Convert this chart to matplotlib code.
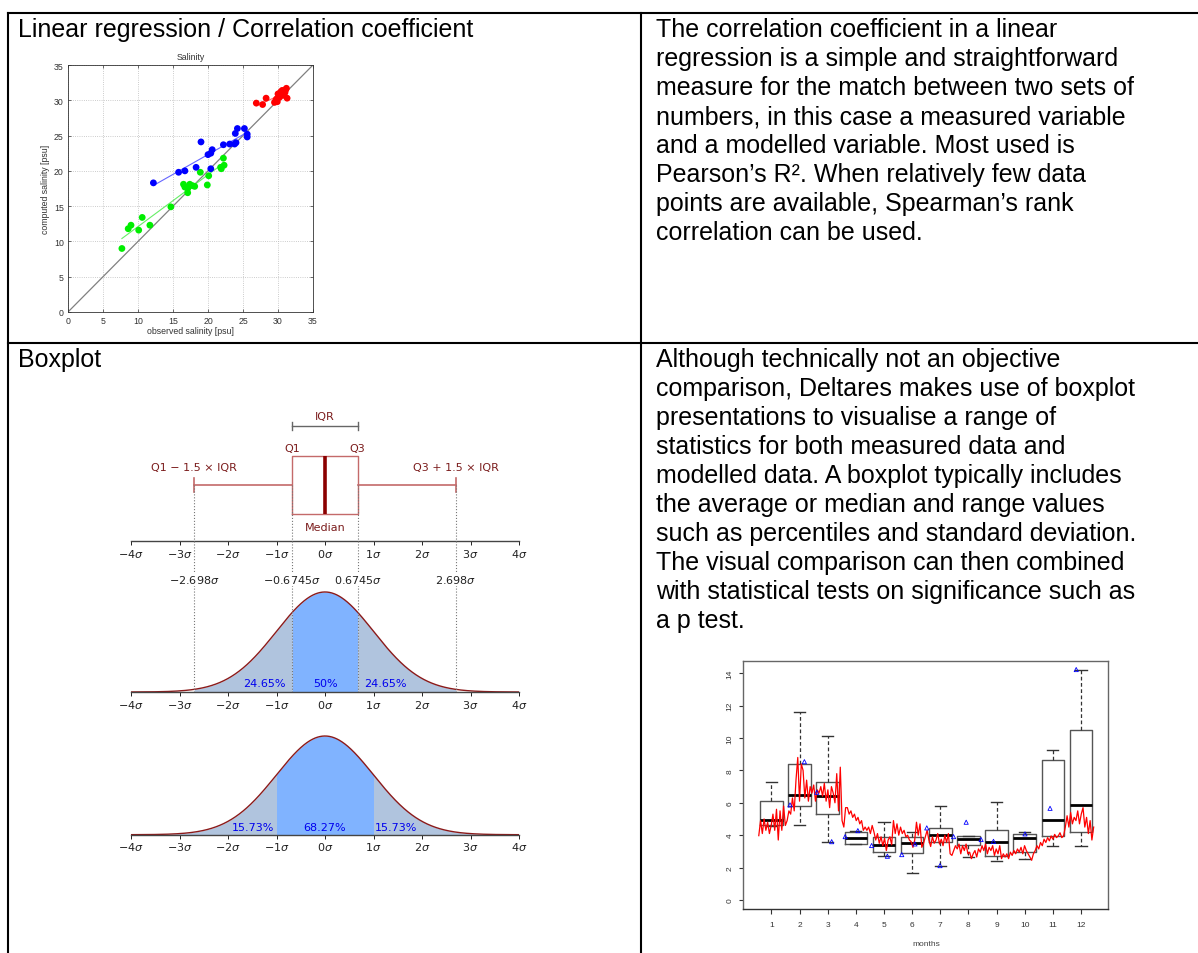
import numpy as np
import matplotlib
matplotlib.use("Agg")
import matplotlib.pyplot as plt
from matplotlib.lines import Line2D
import matplotlib.transforms as mtransforms

# ---------------- data ----------------
red_x = [26.9, 27.8, 28.3, 29.5, 29.8, 30.0, 30.4, 30.7, 31.0, 31.2, 31.3, 30.2, 30.6, 29.9, 30.9, 30.3, 29.7, 31.1]
red_y = [29.6, 29.4, 30.3, 29.7, 30.2, 30.9, 31.2, 30.7, 31.1, 31.7, 30.3, 30.4, 31.4, 29.8, 31.3, 31.0, 30.0, 31.5]
blue_x = [12.2, 15.8, 16.7, 18.3, 19.0, 20.0, 20.4, 20.6, 20.4, 22.2, 23.1, 23.8, 24.0, 23.9, 24.2, 25.2, 25.6, 25.6]
blue_y = [18.3, 19.8, 20.0, 20.5, 24.1, 22.3, 22.5, 23.0, 20.3, 23.7, 23.8, 23.8, 24.0, 25.3, 26.0, 26.0, 25.2, 24.8]
green_x = [7.7, 8.6, 9.0, 10.1, 10.6, 11.7, 14.7, 16.5, 16.7, 17.1, 17.1, 17.4, 17.8, 18.1, 18.9, 19.9, 20.1, 21.8, 22.2, 22.3, 21.9]
green_y = [9.0, 11.8, 12.3, 11.6, 13.4, 12.3, 14.9, 18.1, 17.7, 17.5, 16.9, 18.1, 17.9, 17.8, 19.8, 18.0, 19.3, 20.5, 21.8, 20.8, 20.3]
sal_ticks = [0, 5, 10, 15, 20, 25, 30, 35]

# normal distribution diagram
mu, sigma = 0.0, 1.0
sigma_ticks = [-4, -3, -2, -1, 0, 1, 2, 3, 4]
q1, q3 = -0.6745, 0.6745
whis_lo, whis_hi = -2.698, 2.698
pct_iqr = ["24.65%", "50%", "24.65%"]
pct_sd = ["15.73%", "68.27%", "15.73%"]

# monthly boxplot
months = [1, 2, 3, 4, 5, 6, 7, 8, 9, 10, 11, 12]
box_whislo = [4.55, 4.63, 3.60, 3.45, 2.74, 1.65, 2.12, 2.64, 2.39, 2.53, 3.36, 3.36]
box_q1 = [4.65, 5.79, 5.31, 3.46, 2.94, 2.88, 3.56, 3.40, 2.74, 2.94, 3.93, 4.22]
box_med = [4.96, 6.49, 6.44, 3.81, 3.40, 3.52, 4.01, 3.77, 3.56, 3.81, 4.94, 5.89]
box_q3 = [6.09, 8.40, 7.31, 4.18, 3.91, 3.91, 4.43, 3.93, 4.34, 4.08, 8.65, 10.50]
box_whishi = [7.31, 11.59, 10.11, 4.28, 4.84, 4.22, 5.79, 3.93, 6.07, 4.22, 9.29, 14.23]
tri_x = [1.66, 2.17, 2.61, 3.14, 3.62, 4.07, 4.56, 5.12, 5.63, 6.10, 6.52, 6.99, 7.47, 7.92, 8.45, 8.89, 10.01, 10.90, 11.83]
tri_y = [5.87, 8.54, 6.65, 3.60, 3.91, 4.28, 3.36, 2.70, 2.80, 3.46, 4.45, 2.12, 3.91, 4.80, 3.73, 3.62, 4.08, 5.66, 14.23]
series = [3.97, 4.9, 4.1, 5.0, 4.3, 4.8, 4.1, 4.6,
          5.3, 4.3, 5.6, 3.7, 5.5, 4.3, 5.8, 4.6,
          4.9, 5.5, 5.3, 6.3, 5.5, 7.4, 8.8, 6.1, 8.4,
          8.0, 6.3, 7.4, 6.1, 7.0, 6.6, 7.1, 6.1, 6.8,
          6.6, 7.0, 6.4, 7.2, 6.1, 6.8, 5.7, 7.0,
          6.6, 6.0, 7.8, 5.5, 8.2, 4.9, 4.5, 5.7,
          5.7, 5.3, 5.5, 5.1, 5.3, 4.9, 5.1, 4.7, 4.9, 4.3, 4.5,
          4.3, 4.5, 4.1, 4.6, 4.2, 3.7, 4.1, 3.5, 3.9, 3.35, 3.8, 3.05, 3.7,
          3.9, 3.4, 4.9, 4.1, 4.7, 4.0, 4.5, 4.1,
          4.3, 3.9, 4.0, 3.7, 3.6, 3.25, 3.7, 4.8, 4.0, 4.7, 3.25,
          3.5, 3.9, 4.3, 3.7, 3.3, 3.9, 3.5, 3.7, 4.1,
          3.45, 3.75, 3.35, 4.0, 3.55, 4.1, 2.85,
          2.75, 3.05, 3.35, 3.15, 3.45, 2.85,
          3.35, 3.05, 3.45, 2.85, 2.95, 2.55, 2.85, 3.05,
          2.65, 3.15, 2.95, 3.35, 3.05, 3.45, 2.85, 3.25,
          3.05, 3.35, 2.75, 3.15, 2.85, 3.35, 2.55, 2.85,
          2.65, 2.85, 2.55, 2.95, 2.75, 3.05, 2.85, 3.15,
          2.95, 3.25, 2.85, 3.35, 3.05, 2.85, 2.65, 2.45, 2.85,
          3.05, 3.35, 3.15, 3.55, 3.35, 3.75, 3.55, 3.85,
          3.65, 3.95, 3.75, 4.05, 3.85, 3.95, 4.15, 3.85,
          3.95, 4.5, 5.2, 4.5, 5.4, 4.7, 5.1, 4.9,
          5.5, 4.7, 5.3, 5.7, 4.5, 5.1, 4.1, 4.9, 3.7, 4.5]
series_start, series_end = 0.55, 12.45
month_ticks = [0, 2, 4, 6, 8, 10, 12, 14]

title1 = "Linear regression / Correlation coefficient"
title2 = "Boxplot"
text1 = ["The correlation coefficient in a linear",
         "regression is a simple and straightforward",
         "measure for the match between two sets of",
         "numbers, in this case a measured variable",
         "and a modelled variable. Most used is",
         "Pearson\u2019s R\u00b2. When relatively few data",
         "points are available, Spearman\u2019s rank",
         "correlation can be used."]
text2 = ["Although technically not an objective",
         "comparison, Deltares makes use of boxplot",
         "presentations to visualise a range of",
         "statistics for both measured data and",
         "modelled data. A boxplot typically includes",
         "the average or median and range values",
         "such as percentiles and standard deviation.",
         "The visual comparison can then combined",
         "with statistical tests on significance such as",
         "a p test."]

# ---------------- figure ----------------
W, H = 1198, 954
fig = plt.figure(figsize=(W / 100, H / 100), dpi=100)
fig.patch.set_facecolor("white")


def fx(x):
    return x / W


def fy(y):
    return 1 - y / H


def axrect(l, t, r, b):
    return [l / W, 1 - b / H, (r - l) / W, (b - t) / H]


# table lines
for (x0, y0, x1, y1) in [(8, 14, 1198, 14), (8, 14, 8, 954), (641, 14, 641, 954), (8, 344, 1198, 344)]:
    fig.add_artist(Line2D([fx(x0), fx(x1)], [fy(y0), fy(y1)], color="black", lw=1.5,
                          transform=fig.transFigure, solid_capstyle="projecting"))

BODY = dict(family="Liberation Sans", fontsize=18, color="black", va="baseline", ha="left")
fig.text(fx(18), fy(37), title1, **BODY)
fig.text(fx(18), fy(367), title2, **BODY)
for i, line in enumerate(text1):
    fig.text(fx(656), fy(37 + 29 * i), line, **BODY)
for i, line in enumerate(text2):
    fig.text(fx(656), fy(367 + 29 * i), line, **BODY)

# ---------------- scatter ----------------
ax1 = fig.add_axes(axrect(68, 66, 313, 313))
SF = dict(family="Liberation Sans", fontsize=6.3)
ax1.set_xlim(0, 35)
ax1.set_ylim(0, 35)
ax1.set_xticks(sal_ticks)
ax1.set_yticks(sal_ticks)
ax1.tick_params(direction="in", length=2, width=0.5, labelsize=6.3, pad=3, top=True, right=True,
                colors="#333333")
for lab in ax1.get_xticklabels() + ax1.get_yticklabels():
    lab.set_family("Liberation Sans")
ax1.grid(True, ls=":", color="#bbbbbb", lw=0.6)
ax1.set_axisbelow(True)
for s in ax1.spines.values():
    s.set_linewidth(0.6)
    s.set_color("#333333")
ax1.plot([0, 35], [0, 35], color="#808080", lw=0.9, zorder=2)
for xs, ys, c, lc in [(green_x, green_y, "#00ee00", "#66ee66"),
                      (blue_x, blue_y, "#0000ff", "#6666ff"),
                      (red_x, red_y, "#ff0000", "#ff6666")]:
    k, b = np.polyfit(xs, ys, 1)
    xl = np.array([min(xs), max(xs)])
    ax1.plot(xl, k * xl + b, color=lc, lw=0.8, zorder=3)
    ax1.scatter(xs, ys, s=24, color=c, edgecolors="none", zorder=4)
ax1.set_title("Salinity", pad=4, color="#333333", **SF)
ax1.set_xlabel("observed salinity [psu]", labelpad=0.5, color="#333333", **SF)
ax1.set_ylabel("computed salinity [psu]", labelpad=3, color="#333333", **SF)

# ---------------- boxplot vs pdf ----------------
DARK = "#7b1c1c"
BOXC = "#c46a6a"
DJ = dict(family="DejaVu Sans", fontsize=8)


def sigma_axis(ax, pad):
    ax.set_xlim(-4, 4)
    ax.set_xticks(sigma_ticks)
    ax.set_xticklabels([r"$%d\sigma$" % t for t in sigma_ticks])
    ax.tick_params(axis="x", length=3, width=0.7, pad=pad, labelsize=8, colors="#222222")
    ax.tick_params(axis="y", left=False, labelleft=False)
    for k in ["top", "left", "right"]:
        ax.spines[k].set_visible(False)
    ax.spines["bottom"].set_color("#444444")
    ax.spines["bottom"].set_linewidth(1)
    ax.set_facecolor("none")


ax2 = fig.add_axes(axrect(131, 405, 519, 541.7))
sigma_axis(ax2, 1.5)
ax2.set_ylim(0, 136.7)
stats = [dict(med=mu, q1=q1, q3=q3, whislo=whis_lo, whishi=whis_hi, fliers=[])]
ax2.bxp(stats, positions=[55.7], widths=58.3, orientation="horizontal", showfliers=False,
        manage_ticks=False, capwidths=13.7,
        boxprops=dict(color=BOXC, lw=1), whiskerprops=dict(color=BOXC, lw=1.2),
        capprops=dict(color=BOXC, lw=1.2), medianprops=dict(color="#8b0000", lw=2.6))
ax2.plot([q1, q3], [115, 115], color="#666666", lw=1)
ax2.plot([q1, q1], [111, 119], color="#666666", lw=1)
ax2.plot([q3, q3], [111, 119], color="#666666", lw=1)
ax2.text(0, 124.7, "IQR", ha="center", va="center", color=DARK, **DJ)
ax2.text(q1, 93, "Q1", ha="center", va="center", color=DARK, **DJ)
ax2.text(q3, 93, "Q3", ha="center", va="center", color=DARK, **DJ)
ax2.text(whis_lo, 74, "Q1 \u2212 1.5 \u00d7 IQR", ha="center", va="center", color=DARK, **DJ)
ax2.text(whis_hi, 74, "Q3 + 1.5 \u00d7 IQR", ha="center", va="center", color=DARK, **DJ)
ax2.text(0, 14, "Median", ha="center", va="center", color=DARK, **DJ)

x = np.linspace(-4, 4, 801)


def pdf(v):
    return np.exp(-0.5 * ((v - mu) / sigma) ** 2) / (sigma * np.sqrt(2 * np.pi))


LIGHT = "#b0c4de"
MID = "#80b3ff"

ax3 = fig.add_axes(axrect(131, 587.7, 519, 693))
sigma_axis(ax3, 1.0)
ax3.set_ylim(0, 0.42)
for a, b, c in [(whis_lo, q1, LIGHT), (q1, q3, MID), (q3, whis_hi, LIGHT)]:
    xs = np.linspace(a, b, 200)
    ax3.fill_between(xs, pdf(xs), color=c, lw=0)
ax3.plot(x, pdf(x), color="#8b1a1a", lw=1)
blend = mtransforms.blended_transform_factory(ax3.transData, fig.transFigure)
for v in [whis_lo, q1, q3, whis_hi]:
    ax3.plot([v, v], [fy(486), fy(693)], transform=blend, clip_on=False, ls=":", color="#777777", lw=0.8)
for v in [whis_lo, q1, q3, whis_hi]:
    ax3.text(v, fy(580), r"$%s\sigma$" % (("%.4f" % v).rstrip("0") if abs(v) < 1 else "%.3f" % v),
             transform=blend, ha="center", va="center", fontsize=8, color="#222222",
             bbox=dict(facecolor="white", edgecolor="none", pad=0.5))
for xp, t in zip([-1.24, 0.0, 1.24], pct_iqr):
    ax3.text(xp, 0.036, t, ha="center", va="center", color="#0000ee", **DJ)

ax4 = fig.add_axes(axrect(131, 731.8, 519, 835.7))
sigma_axis(ax4, 1.0)
ax4.set_ylim(0, 0.42)
for a, b, c in [(-4, -sigma, LIGHT), (-sigma, sigma, MID), (sigma, 4, LIGHT)]:
    xs = np.linspace(a, b, 200)
    ax4.fill_between(xs, pdf(xs), color=c, lw=0)
ax4.plot(x, pdf(x), color="#8b1a1a", lw=1)
for xp, t in zip([-1.49, 0.0, 1.47], pct_sd):
    ax4.text(xp, 0.031, t, ha="center", va="center", color="#0000ee", **DJ)

# ---------------- monthly boxplot ----------------
ax5 = fig.add_axes(axrect(743.3, 662.3, 1108.3, 910))
ax5.set_xlim(0.0, 12.97)
ax5.set_ylim(-0.56, 14.74)
mstats = [dict(med=m, q1=a, q3=b, whislo=lo, whishi=hi, fliers=[])
          for m, a, b, lo, hi in zip(box_med, box_q1, box_q3, box_whislo, box_whishi)]
ax5.bxp(mstats, positions=months, widths=0.8, showfliers=False, manage_ticks=False, capwidths=0.4,
        boxprops=dict(color="#555555", lw=1), whiskerprops=dict(color="#333333", lw=0.9, ls=(0, (3, 2))),
        capprops=dict(color="#333333", lw=1), medianprops=dict(color="black", lw=2))
ax5.plot(np.linspace(series_start, series_end, len(series)), series, color="red", lw=0.9, zorder=3)
ax5.scatter(tri_x, tri_y, marker="^", s=9, facecolors="none", edgecolors="#0000ff", lw=0.6, zorder=4)
ax5.set_xticks(months)
ax5.set_yticks(month_ticks)
ax5.tick_params(axis="x", length=3.6, width=0.8, pad=5, labelsize=6, colors="#333333")
ax5.tick_params(axis="y", length=3.0, width=0.8, pad=4, labelsize=6, colors="#333333", labelrotation=90)
for lab in ax5.get_xticklabels() + ax5.get_yticklabels():
    lab.set_family("Liberation Sans")
for lab in ax5.get_yticklabels():
    lab.set_va("center")
for k, s in ax5.spines.items():
    s.set_color("#666666")
    s.set_linewidth(1)
ax5.spines["bottom"].set_color("#333333")
ax5.set_xlabel("months", labelpad=9, color="#444444", family="Liberation Sans", fontsize=6)

fig.savefig("out.png", dpi=100, facecolor="white")
